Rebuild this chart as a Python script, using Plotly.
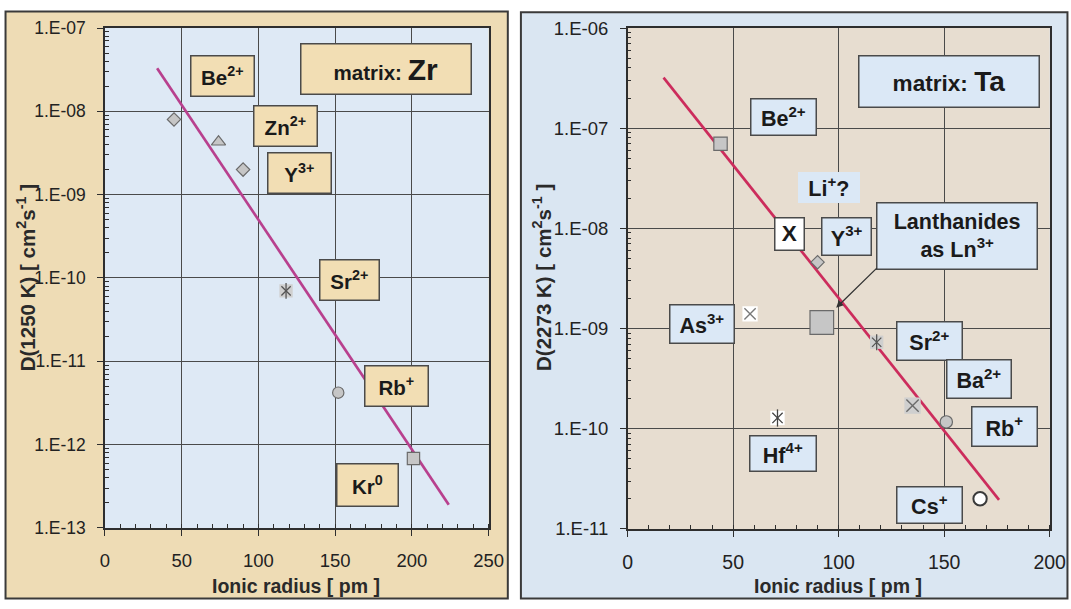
import math
import plotly.graph_objects as go

# Layout positions below are written in window pixels of the final picture.
# The page shows the figure inside the default 8 px body margin and at a
# slight zoom, so window pixels are converted to figure pixels.
ZOOM = 0.9736
BODY = 8
W, H = 1084, 609

# ---- Zr matrix, D at 1250 K ----
zr_ions = ["Be2+", "Zn2+", "Y3+", "Sr2+", "Rb+", "Kr0"]
zr_radius = [45, 74, 90, 118, 152, 201]
zr_D = [8.0e-9, 4.3e-9, 2.0e-9, 7.0e-11, 4.2e-12, 6.8e-13]
zr_fit_radius = [34, 224]
zr_fit_D = [3.3e-8, 1.9e-13]

# ---- Ta matrix, D at 2273 K ----
ta_ions = ["Be2+", "Y3+", "Ln3+", "As3+", "Sr2+", "Ba2+", "Rb+", "Hf4+", "Cs+"]
ta_radius = [44, 90, 92, 58, 118, 135, 151, 71, 167]
ta_D = [7.0e-8, 4.6e-9, 1.15e-9, 1.4e-9, 7.3e-10, 1.7e-10, 1.17e-10, 1.28e-10, 2.0e-11]
ta_fit_radius = [17, 176]
ta_fit_D = [3.2e-7, 1.95e-11]

# axis ticks
zr_xticks = [0, 50, 100, 150, 200, 250]
zr_yticks = [1e-13, 1e-12, 1e-11, 1e-10, 1e-9, 1e-8, 1e-7]
zr_ylabels = ["1.E-13", "1.E-12", "1.E-11", "1.E-10", "1.E-09", "1.E-08", "1.E-07"]
ta_xticks = [0, 50, 100, 150, 200]
ta_yticks = [1e-11, 1e-10, 1e-9, 1e-8, 1e-7, 1e-6]
ta_ylabels = ["1.E-11", "1.E-10", "1.E-09", "1.E-08", "1.E-07", "1.E-06"]

FONT = "Liberation Sans, Arial, sans-serif"
GRID = "#4a4a4a"
EDGE = "#6a6a6a"
GRAY = "#c6c6c6"


def k(v):
    """window pixels -> figure pixels (sizes)"""
    return v / ZOOM


def px(x):
    return min(max((x / ZOOM - BODY) / W, 0.0005), 0.9995)


def py(y):
    return min(max(1 - (y / ZOOM - BODY) / H, 0.0008), 0.9992)


def minor_vals(decades):
    lo, hi = int(round(math.log10(min(decades)))), int(round(math.log10(max(decades))))
    return [m * 10.0 ** e for e in range(lo, hi) for m in range(2, 10)]


fig = go.Figure()


# marker styles per ion: list of layers drawn bottom to top
def style_layers(kind, size):
    size = k(size)
    if kind == "diamond":
        return [dict(symbol="diamond", size=size, color=GRAY, line=dict(color=EDGE, width=1.2))]
    if kind == "triangle":
        return [dict(symbol="triangle-up", size=size, color=GRAY, line=dict(color=EDGE, width=1.2))]
    if kind == "circle":
        return [dict(symbol="circle", size=size, color=GRAY, line=dict(color=EDGE, width=1.2))]
    if kind == "wcircle":
        return [dict(symbol="circle", size=size, color="white", line=dict(color="#3a3a3a", width=2))]
    if kind == "square":
        return [dict(symbol="square", size=size, color=GRAY, line=dict(color=EDGE, width=1.2))]
    if kind == "star_g":
        return [dict(symbol="square", size=size + 2, color="#cfcfcf", line=dict(width=0)),
                dict(symbol="x-thin-open", size=size - 2, color="#555555", line=dict(color="#555555", width=1.3)),
                dict(symbol="line-ns-open", size=size, color="#555555", line=dict(color="#555555", width=1.3))]
    if kind == "star_w":
        return [dict(symbol="square", size=size + 2, color="white", line=dict(width=0)),
                dict(symbol="x-thin-open", size=size - 2, color="#444444", line=dict(color="#444444", width=1.3)),
                dict(symbol="line-ns-open", size=size, color="#444444", line=dict(color="#444444", width=1.3))]
    if kind == "x_g":
        return [dict(symbol="square", size=size + 4, color="#cfcfcf", line=dict(width=0)),
                dict(symbol="x-thin-open", size=size, color="#6a6a6a", line=dict(color="#6a6a6a", width=1.4))]
    if kind == "x_w":
        return [dict(symbol="square", size=size + 4, color="white", line=dict(width=0)),
                dict(symbol="x-thin-open", size=size, color="#7a7a7a", line=dict(color="#7a7a7a", width=1.4))]
    return []


zr_style = {"Be2+": ("diamond", 10), "Zn2+": ("triangle", 12), "Y3+": ("diamond", 10),
            "Sr2+": ("star_g", 11), "Rb+": ("circle", 11), "Kr0": ("square", 12)}
ta_style = {"Be2+": ("square", 13), "Y3+": ("diamond", 10), "Ln3+": ("square", 23),
            "As3+": ("x_w", 11), "Sr2+": ("star_g", 11), "Ba2+": ("x_g", 12),
            "Rb+": ("circle", 12), "Hf4+": ("star_w", 12), "Cs+": ("wcircle", 13)}

# fitted lines
fig.add_trace(go.Scatter(x=zr_fit_radius, y=zr_fit_D, mode="lines",
                         line=dict(color="#b8408e", width=2.7), xaxis="x", yaxis="y",
                         showlegend=False, hoverinfo="skip"))
fig.add_trace(go.Scatter(x=ta_fit_radius, y=ta_fit_D, mode="lines",
                         line=dict(color="#cc2c5c", width=2.7), xaxis="x2", yaxis="y2",
                         showlegend=False, hoverinfo="skip"))

for ions, rad, dv, sty, xa, ya in [(zr_ions, zr_radius, zr_D, zr_style, "x", "y"),
                                   (ta_ions, ta_radius, ta_D, ta_style, "x2", "y2")]:
    for ion, r, d in zip(ions, rad, dv):
        kind, size = sty[ion]
        for mk in style_layers(kind, size):
            fig.add_trace(go.Scatter(x=[r], y=[d], mode="markers", marker=mk, name=ion,
                                     xaxis=xa, yaxis=ya, showlegend=False))

axis_common = dict(showline=True, linecolor="#2e2e2e", linewidth=1.5, mirror=True,
                   showgrid=True, gridcolor=GRID, gridwidth=1.3, zeroline=False,
                   ticks="outside", ticklen=6, tickcolor="#2e2e2e", tickwidth=1.3)


def tfont(size):
    return dict(family=FONT, size=k(size), color="#222222")


fig.update_layout(
    width=W, height=H, margin=dict(l=0, r=0, t=0, b=0),
    paper_bgcolor="white", plot_bgcolor="rgba(0,0,0,0)", showlegend=False,
    xaxis=dict(domain=[px(107), px(488)], range=[0, 250], anchor="y",
               tickvals=zr_xticks, ticktext=[str(v) for v in zr_xticks],
               tickfont=tfont(18), ticklabelstandoff=9,
               minor=dict(dtick=10, ticks="inside", ticklen=4, tickcolor="#2e2e2e", showgrid=False),
               **axis_common),
    yaxis=dict(domain=[py(529), py(25)], type="log", range=[-13, -7], anchor="x",
               tickvals=zr_yticks, ticktext=zr_ylabels,
               tickfont=tfont(17), ticklabelstandoff=8,
               minor=dict(tickvals=minor_vals(zr_yticks), ticks="inside", ticklen=4,
                          tickcolor="#2e2e2e", showgrid=False),
               **axis_common),
    xaxis2=dict(domain=[px(626), px(1045)], range=[0, 200], anchor="y2",
                tickvals=ta_xticks, ticktext=[str(v) for v in ta_xticks],
                tickfont=tfont(19), ticklabelstandoff=9,
                minor=dict(dtick=10, ticks="inside", ticklen=4, tickcolor="#2e2e2e", showgrid=False),
                **axis_common),
    yaxis2=dict(domain=[py(530), py(25)], type="log", range=[-11, -6], anchor="x2",
                tickvals=ta_yticks, ticktext=ta_ylabels,
                tickfont=tfont(18), ticklabelstandoff=8,
                minor=dict(tickvals=minor_vals(ta_yticks), ticks="inside", ticklen=4,
                           tickcolor="#2e2e2e", showgrid=False),
                **axis_common),
)

# panel backgrounds and plot-area fills
shapes = [
    dict(type="rect", xref="paper", yref="paper", x0=px(5), x1=px(507), y0=py(606), y1=py(5),
         fillcolor="#eedcb5", line=dict(color="#3a3a3a", width=2), layer="below"),
    dict(type="rect", xref="paper", yref="paper", x0=px(520), x1=px(1068), y0=py(606), y1=py(9),
         fillcolor="#dae6f2", line=dict(color="#3a3a3a", width=2), layer="below"),
    dict(type="rect", xref="x domain", yref="y domain", x0=0, x1=1, y0=0, y1=1,
         fillcolor="#dee9f5", line=dict(width=0), layer="below"),
    dict(type="rect", xref="x2 domain", yref="y2 domain", x0=0, x1=1, y0=0, y1=1,
         fillcolor="#e7ddd0", line=dict(width=0), layer="below"),
]
fig.update_layout(shapes=shapes)

annotations = []


def box(cx, cy, w, h, text, size, bg, border=True, bold=True):
    annotations.append(dict(
        x=px(cx), y=py(cy), xref="paper", yref="paper", xanchor="center", yanchor="middle",
        text=("<b>%s</b>" % text) if bold else text, showarrow=False,
        width=k(w) - 2, height=k(h) - 2, align="center", valign="middle",
        font=dict(family=FONT, size=k(size), color="#1a1a1a"),
        bgcolor=bg, bordercolor="#4a4a4a" if border else bg, borderwidth=1.5 if border else 0,
        borderpad=0))


TAN = "#f2deb4"
BLUE = "#dbe8f6"

# labels, Zr panel
box(224, 73, 62, 40, "Be<sup>2+</sup>", 20, TAN)
box(386, 66, 166, 50, "matrix: <span style='font-size:%dpx'>Zr</span>" % round(k(29)), 20, TAN)
box(286, 124, 62, 40, "Zn<sup>2+</sup>", 20, TAN)
box(300, 171, 62, 40, "Y<sup>3+</sup>", 20, TAN)
box(350, 279, 58, 40, "Sr<sup>2+</sup>", 20, TAN)
box(396, 386, 62, 40, "Rb<sup>+</sup>", 20, TAN)
box(368, 486, 60, 42, "Kr<sup>0</sup>", 20, TAN)

# labels, Ta panel
box(945, 79, 176, 51, "matrix: <span style='font-size:%dpx'>Ta</span>" % round(k(27)), 22, BLUE)
box(781, 115, 64, 36, "Be<sup>2+</sup>", 21, BLUE)
box(826, 186, 62, 32, "Li<sup>+</sup>?", 21, BLUE, border=False)
box(787, 233, 29, 32, "X", 22, "white")
box(843, 235, 49, 37, "Y<sup>3+</sup>", 21, BLUE)
box(953, 235, 157, 65, "Lanthanides<br>as Ln<sup>3+</sup>", 21, BLUE)
box(700, 323, 63, 38, "As<sup>3+</sup>", 21, BLUE)
box(926, 341, 64, 38, "Sr<sup>2+</sup>", 21, BLUE)
box(975, 379, 63, 38, "Ba<sup>2+</sup>", 21, BLUE)
box(1000, 427, 64, 39, "Rb<sup>+</sup>", 21, BLUE)
box(780, 454, 65, 35, "Hf<sup>4+</sup>", 21, BLUE)
box(926, 506, 64, 36, "Cs<sup>+</sup>", 21, BLUE)

# pointer from the lanthanide label to its marker
annotations.append(dict(x=px(833), y=py(307), xref="paper", yref="paper", text="",
                        showarrow=True, ax=k(41), ay=k(-40), arrowhead=2, arrowsize=1.1,
                        arrowwidth=1.3, arrowcolor="#333333"))

# axis titles
for cx, txt in [(297, "Ionic radius [ pm ]"), (835, "Ionic radius [ pm ]")]:
    annotations.append(dict(x=px(cx), y=py(588), xref="paper", yref="paper", showarrow=False,
                            text="<b>%s</b>" % txt, font=dict(family=FONT, size=k(19), color="#2a2a2a"),
                            xanchor="center", yanchor="middle"))
for cx, txt in [(29, "D(1250 K) [ cm<sup>2</sup>s<sup>-1</sup> ]"),
                (541, "D(2273 K) [ cm<sup>2</sup>s<sup>-1</sup> ]")]:
    annotations.append(dict(x=px(cx), y=py(277), xref="paper", yref="paper", showarrow=False,
                            text="<b>%s</b>" % txt, textangle=-90,
                            font=dict(family=FONT, size=k(20), color="#2a2a2a"),
                            xanchor="center", yanchor="middle"))

fig.update_layout(annotations=annotations)

fig.write_html("out.html")
